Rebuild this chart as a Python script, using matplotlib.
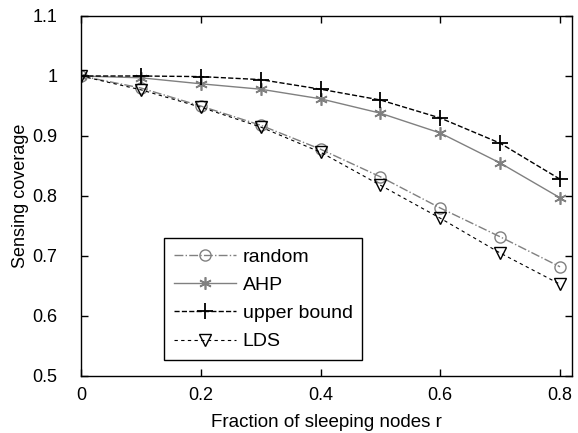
import numpy as np
import matplotlib
matplotlib.use('Agg')
import matplotlib.pyplot as plt

plt.rcParams['font.family'] = ['Liberation Sans', 'DejaVu Sans']
plt.rcParams['font.size'] = 13

r = [0.0, 0.1, 0.2, 0.3, 0.4, 0.5, 0.6, 0.7, 0.8]
random_cov = [1.0, 0.980, 0.950, 0.918, 0.878, 0.832, 0.780, 0.732, 0.682]
ahp_cov = [1.0, 0.997, 0.987, 0.978, 0.962, 0.938, 0.905, 0.855, 0.797]
upper_cov = [1.0, 1.0, 0.999, 0.994, 0.978, 0.960, 0.930, 0.888, 0.828]
lds_cov = [1.0, 0.977, 0.948, 0.915, 0.873, 0.818, 0.763, 0.705, 0.653]

gray = '#808080'

fig = plt.figure(figsize=(5.78, 4.33), dpi=100)
ax = fig.add_axes([81/578, 57/433, 491/578, 360/433])

ax.plot(r, random_cov, color=gray, linestyle='-.', linewidth=1, marker='o',
        markersize=8, markerfacecolor='none', markeredgecolor=gray, label='random')
ax.plot(r, ahp_cov, color=gray, linestyle='-', linewidth=1, marker=(6, 2, 0),
        markersize=9, markeredgewidth=1.2, markeredgecolor=gray, label='AHP')
ax.plot(r, upper_cov, color='black', linestyle='--', linewidth=1, marker='+',
        markersize=12, markeredgewidth=1.3, label='upper bound')
ax.plot(r, lds_cov, color='black', linestyle='--', linewidth=0.8, dashes=(3, 3),
        marker='v', markersize=8, markerfacecolor='none', label='LDS')

ax.set_xlim(0, 0.82)
ax.set_ylim(0.5, 1.1)
ax.set_xticks([0, 0.2, 0.4, 0.6, 0.8])
ax.set_xticklabels(['0', '0.2', '0.4', '0.6', '0.8'])
ax.set_yticks([0.5, 0.6, 0.7, 0.8, 0.9, 1.0, 1.1])
ax.set_yticklabels(['0.5', '0.6', '0.7', '0.8', '0.9', '1', '1.1'])
ax.tick_params(direction='in', top=True, right=True, length=5, width=1)
ax.tick_params(axis='y', pad=17)
ax.tick_params(axis='x', pad=8)
for s in ax.spines.values():
    s.set_linewidth(1)

ax.set_xlabel('Fraction of sleeping nodes r', fontsize=13.5, labelpad=7)
ax.set_ylabel('Sensing coverage', labelpad=2)

leg = ax.legend(loc='lower left', bbox_to_anchor=(0.169, 0.044), frameon=True,
                fancybox=False, edgecolor='black', framealpha=1, borderaxespad=0,
                fontsize=14, handlelength=3.2, handletextpad=0.35, borderpad=0.5,
                labelspacing=0.55)
leg.get_frame().set_linewidth(1)

plt.savefig('out.png', dpi=100)
